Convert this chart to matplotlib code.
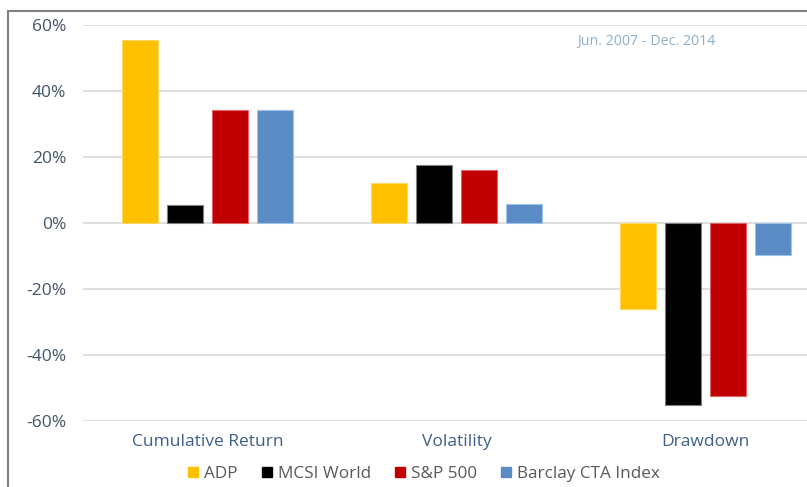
import matplotlib
matplotlib.use("Agg")
import matplotlib.pyplot as plt
import numpy as np
from matplotlib.lines import Line2D
from matplotlib.ticker import FuncFormatter

categories = ["Cumulative Return", "Volatility", "Drawdown"]
series_names = ["ADP", "MCSI World", "S&P 500", "Barclay CTA Index"]
adp = [0.555, 0.120, -0.261]
mcsi = [0.055, 0.175, -0.552]
sp500 = [0.342, 0.161, -0.524]
barclay = [0.342, 0.057, -0.097]
yticks = [-0.6, -0.4, -0.2, 0.0, 0.2, 0.4, 0.6]
note = "Jun. 2007 - Dec. 2014"

colors = ["#FFC000", "#000000", "#C00000", "#5B8BC5"]
edges = ["#FFD966", "#7F7F7F", "#E06666", "#9DC3E6"]

W, H = 807, 487
fig = plt.figure(figsize=(W / 100, H / 100), dpi=100)
plt.rcParams['font.family'] = ['Open Sans', 'DejaVu Sans']

ax_left, ax_right = 83, 83 + 3 * 249
ax_top, ax_bot = 25, 421
ax = fig.add_axes([ax_left / W, 1 - ax_bot / H, (ax_right - ax_left) / W, (ax_bot - ax_top) / H])

x = np.arange(len(categories))
data = [adp, mcsi, sp500, barclay]
step = 0.181
width = 0.145
for i, (vals, c, e, name) in enumerate(zip(data, colors, edges, series_names)):
    ax.bar(x + (i - 1.5) * step, vals, width=width, color=c, edgecolor=e, linewidth=0.8,
           label=name, zorder=3)

ax.set_xlim(-0.5, len(categories) - 0.5)
ax.set_ylim(-0.6, 0.6)
ax.set_yticks(yticks)
ax.yaxis.set_major_formatter(FuncFormatter(lambda v, p: f"{v*100:.0f}%"))
ax.grid(axis='y', color="#D9D9D9", linewidth=1.2, zorder=0)
for s in ax.spines.values():
    s.set_visible(False)
ax.tick_params(axis='y', length=0, pad=12, labelsize=12.5, labelcolor="#44546A")
ax.set_xticks([])
for xi, cat in zip(x, categories):
    ax.text(xi, -0.665, cat, ha='center', va='center', fontsize=12.5, color="#3F5F8A")

ax.text(646 / W, 1 - 42 / H, note, transform=fig.transFigure, ha='center', va='center',
        fontsize=10.3, color="#8FB0C8")

# outer frame lines
fig.add_artist(Line2D([8 / W, 1], [1 - 11 / H, 1 - 11 / H], transform=fig.transFigure,
                      color="#808080", linewidth=1.5))
fig.add_artist(Line2D([8 / W, 8 / W], [0, 1 - 11 / H], transform=fig.transFigure,
                      color="#808080", linewidth=1.5))

handles = [Line2D([], [], marker='s', linestyle='none', markersize=7.5, markerfacecolor=c,
                  markeredgecolor=c) for c in colors]
fig.legend(handles, series_names, loc='center', bbox_to_anchor=(423 / W, 1 - 474 / H),
           ncol=4, frameon=False, fontsize=12.3, handletextpad=0.25, columnspacing=1.3,
           labelcolor="#595959", handlelength=0.8)

fig.savefig("out.png", dpi=100)
